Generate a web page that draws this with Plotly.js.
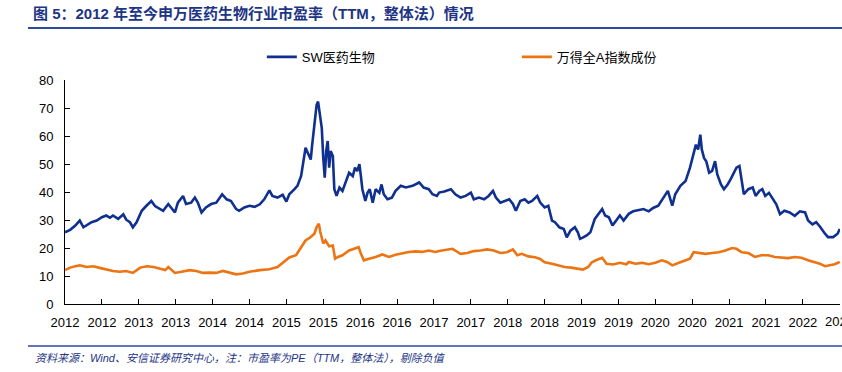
<!DOCTYPE html>
<html>
<head>
<meta charset="utf-8">
<script src="https://cdn.plot.ly/plotly-3.0.1.min.js"></script>
<style>html,body{margin:0;padding:0;background:#fff;}#chart{width:842px;height:372px;}</style>
</head>
<body>
<div id="chart"></div>
<script>
// Time in decimal years, values = PE (TTM)
const swT = [2012.00,2012.07,2012.14,2012.20,2012.25,2012.29,2012.36,2012.43,2012.50,2012.56,2012.61,2012.65,2012.72,2012.79,2012.83,2012.88,2012.92,2012.97,
2013.04,2013.10,2013.17,2013.22,2013.28,2013.33,2013.40,2013.44,2013.49,2013.53,2013.60,2013.64,2013.71,2013.76,2013.80,2013.85,2013.91,2013.98,
2014.05,2014.13,2014.19,2014.25,2014.32,2014.36,2014.43,2014.50,2014.57,2014.64,2014.70,2014.77,2014.81,2014.88,2014.95,
2015.00,2015.04,2015.11,2015.15,2015.20,2015.24,2015.26,2015.30,2015.33,2015.35,2015.39,2015.41,2015.43,2015.46,2015.48,2015.50,2015.52,2015.54,2015.56,2015.58,2015.60,2015.63,2015.65,2015.68,2015.72,2015.76,2015.81,2015.85,2015.90,2015.93,2015.96,2015.99,
2016.01,2016.03,2016.07,2016.10,2016.13,2016.17,2016.21,2016.26,2016.29,2016.32,2016.37,2016.43,2016.48,2016.55,2016.62,2016.71,2016.80,2016.86,2016.93,2016.98,
2017.04,2017.07,2017.14,2017.23,2017.29,2017.36,2017.43,2017.50,2017.54,2017.61,2017.68,2017.74,2017.80,2017.84,2017.90,2017.97,
2018.02,2018.07,2018.11,2018.17,2018.23,2018.28,2018.33,2018.40,2018.44,2018.50,2018.55,2018.60,2018.64,2018.70,2018.76,2018.80,2018.85,2018.91,2018.95,2018.98,
2019.01,2019.07,2019.12,2019.18,2019.23,2019.28,2019.32,2019.37,2019.42,2019.48,2019.52,2019.57,2019.61,2019.64,2019.70,2019.77,2019.84,2019.91,2019.97,
2020.04,2020.11,2020.17,2020.23,2020.27,2020.34,2020.41,2020.47,2020.53,2020.55,2020.58,2020.61,2020.63,2020.66,2020.69,2020.73,2020.77,2020.81,2020.84,2020.89,2020.93,2020.98,
2021.02,2021.07,2021.10,2021.14,2021.17,2021.20,2021.26,2021.32,2021.36,2021.41,2021.45,2021.49,2021.54,2021.58,2021.64,2021.69,2021.75,2021.82,2021.89,2021.96,
2022.03,2022.07,2022.13,2022.18,2022.23,2022.30,2022.34,2022.41,2022.47,2022.50];
const swPE = [25.6,26.5,28.0,29.8,27.4,28.0,29.2,29.8,31.0,31.6,30.8,31.6,30.4,32.0,30.1,29.2,27.4,29.2,
33.3,35.0,36.8,35.0,33.9,33.3,35.7,34.5,32.7,36.2,38.6,35.7,36.2,38.0,36.2,32.7,34.5,35.7,
36.2,39.2,37.4,36.8,33.9,33.3,34.5,35.1,34.7,35.6,37.4,40.6,38.6,38.0,39.0,
36.6,39.2,41.0,42.2,45.7,52.2,55.8,53.4,51.6,56.9,65.2,71.1,72.3,67.0,62.8,52.2,45.1,54.6,58.2,48.7,54.6,52.8,41.0,38.6,41.6,40.4,43.9,46.9,45.7,48.7,47.5,49.9,
45.7,41.0,36.8,39.7,41.0,36.2,41.0,39.7,42.7,39.2,37.4,38.0,40.4,42.2,41.6,42.2,43.4,41.6,41.0,39.2,
38.6,39.8,40.2,41.0,39.2,38.0,38.6,39.8,37.4,38.0,37.4,38.6,40.4,38.0,36.2,36.8,
37.4,35.7,33.3,36.8,37.4,36.2,36.8,38.6,36.2,34.5,35.1,29.8,29.2,27.4,26.8,23.8,26.2,27.4,25.6,23.3,
23.6,24.5,25.6,30.4,32.1,33.9,31.6,31.0,28.0,30.4,31.6,29.8,31.0,32.2,33.1,33.4,33.9,33.1,34.3,
35.1,38.0,40.4,35.1,39.2,42.2,43.9,48.7,55.2,56.9,55.2,60.5,55.2,52.2,51.0,46.9,47.5,51.0,46.3,42.7,41.0,42.7,
44.5,47.5,48.7,49.3,44.5,39.2,41.0,41.6,38.6,40.4,41.0,38.6,39.7,38.0,35.6,32.1,33.3,32.7,31.5,33.1,
32.7,29.8,28.4,29.2,27.7,25.1,23.9,23.9,25.1,26.8];

const waT = [2012.00,2012.07,2012.14,2012.20,2012.29,2012.38,2012.47,2012.56,2012.65,2012.74,2012.83,2012.92,
2013.02,2013.11,2013.20,2013.29,2013.36,2013.40,2013.49,2013.58,2013.69,2013.78,2013.87,2013.96,
2014.05,2014.14,2014.23,2014.32,2014.41,2014.50,2014.64,2014.77,2014.88,2014.95,
2015.04,2015.13,2015.20,2015.26,2015.33,2015.38,2015.41,2015.44,2015.46,2015.50,2015.53,2015.58,2015.63,2015.66,2015.70,2015.76,2015.85,2015.92,2015.98,
2016.01,2016.05,2016.12,2016.21,2016.30,2016.39,2016.48,2016.57,2016.66,2016.75,2016.84,2016.93,
2017.02,2017.07,2017.16,2017.25,2017.29,2017.36,2017.45,2017.54,2017.63,2017.72,2017.81,2017.90,2017.99,
2018.07,2018.13,2018.19,2018.28,2018.37,2018.44,2018.50,2018.60,2018.68,2018.77,2018.86,2018.95,
2019.02,2019.09,2019.14,2019.21,2019.28,2019.34,2019.43,2019.52,2019.61,2019.64,2019.73,2019.82,2019.91,
2020.00,2020.09,2020.16,2020.23,2020.32,2020.41,2020.47,2020.52,2020.59,2020.68,2020.77,2020.86,2020.95,
2021.04,2021.10,2021.17,2021.26,2021.35,2021.44,2021.53,2021.62,2021.71,2021.80,2021.89,2021.98,
2022.07,2022.16,2022.23,2022.30,2022.37,2022.43,2022.50];
const waPE = [12.1,13.0,13.5,13.8,13.2,13.5,12.9,12.3,11.8,11.5,11.8,11.1,
13.0,13.5,13.2,12.6,12.1,13.2,11.1,11.5,12.1,11.8,11.1,11.2,
11.1,11.8,11.1,10.6,10.9,11.5,12.1,12.4,13.2,14.7,
16.6,17.4,20.4,22.7,23.9,25.1,27.5,28.7,25.7,21.6,22.7,20.6,20.9,16.2,16.8,17.4,19.1,19.7,20.3,
18.0,15.6,16.2,16.8,17.7,16.8,17.6,18.2,18.6,18.8,18.6,19.1,
18.6,18.9,19.4,19.7,19.1,17.9,18.2,18.9,19.1,19.5,19.1,18.2,18.5,
19.5,17.4,17.9,17.0,16.7,16.1,14.9,14.4,13.8,13.2,13.0,12.6,
12.3,13.2,14.9,15.8,16.5,14.4,14.1,14.7,14.2,15.0,14.4,14.7,14.2,
14.7,15.6,15.0,13.8,14.7,15.6,16.2,18.5,18.2,17.9,18.2,18.5,19.1,
20.0,19.7,18.5,18.2,16.8,17.4,17.4,16.8,16.5,16.4,16.8,16.5,
15.6,15.0,14.4,13.5,13.8,14.2,15.0];

const tickVals = [2012,2012.5,2013,2013.5,2014,2014.5,2015,2015.5,2016,2016.5,2017,2017.5,2018,2018.5,2019,2019.5,2020,2020.5,2021,2021.5,2022,2022.5];
const tickText = ['2012','2012','2013','2013','2014','2014','2015','2015','2016','2016','2017','2017','2018','2018','2019','2019','2020','2020','2021','2021','2022','2022'];
const seriesNames = ['SW医药生物','万得全A指数成份'];

const FONT = 'Liberation Sans, Arial, "Noto Sans CJK SC", sans-serif';
const NAVY = '#1d3585';
const lastIdx = tickVals.length - 1;

const traces = [
  {x: swT, y: swPE, name: seriesNames[0], type: 'scatter', mode: 'lines',
   line: {color: '#10308f', width: 2.6}},
  {x: waT, y: waPE, name: seriesNames[1], type: 'scatter', mode: 'lines',
   line: {color: '#ec7413', width: 2.6}}
];

const layout = {
  width: 842, height: 372,
  margin: {l: 65, r: 2, t: 80, b: 68},
  paper_bgcolor: '#ffffff', plot_bgcolor: '#ffffff',
  font: {family: FONT, size: 13, color: '#000'},
  showlegend: true,
  title: {
    text: '<b>图 5：2012 年至今申万医药生物行业市盈率（TTM，整体法）情况</b>',
    font: {family: 'Liberation Sans, "Noto Sans CJK SC", sans-serif', size: 15, color: NAVY},
    xref: 'container', x: 33/842, xanchor: 'left',
    yref: 'container', y: 1 - 14/372, yanchor: 'middle'
  },
  legend: {
    orientation: 'h', x: 0.254, xanchor: 'left', y: 1.103, yanchor: 'middle',
    font: {family: FONT, size: 13, color: '#000'},
    entrywidth: 210, entrywidthmode: 'pixels',
    bgcolor: 'rgba(0,0,0,0)'
  },
  xaxis: {
    range: [2012, 2022.503], tickmode: 'array', tickvals: tickVals, ticktext: tickText,
    ticks: 'inside', ticklen: 5, tickcolor: '#000', tickwidth: 1,
    showline: true, linecolor: '#000', linewidth: 1, showgrid: false, zeroline: false,
    tickfont: {family: FONT, size: 13, color: '#000'}, ticklabelstandoff: 6
  },
  yaxis: {
    range: [0, 80], dtick: 10, tick0: 0,
    ticks: 'inside', ticklen: 5, tickcolor: '#000', tickwidth: 1,
    showline: true, linecolor: '#000', linewidth: 1, showgrid: false, zeroline: false,
    tickfont: {family: FONT, size: 13, color: '#000'}, ticklabelstandoff: 8
  },
  shapes: [
    {type: 'line', xref: 'paper', yref: 'paper', x0: (28-65)/775, x1: (842-65)/775, y0: (304-28)/224, y1: (304-28)/224,
     line: {color: '#2d4a9c', width: 2}},
    {type: 'line', xref: 'paper', yref: 'paper', x0: (28-65)/775, x1: (842-65)/775, y0: (304-346)/224, y1: (304-346)/224,
     line: {color: '#2d4a9c', width: 1.5}}
  ],
  annotations: [
    {text: '<i>资料来源：Wind、安信证券研究中心，注：市盈率为PE（TTM，整体法），剔除负值</i>',
     xref: 'paper', yref: 'paper', x: (33-65)/775, y: (304-358)/224, xanchor: 'left', yanchor: 'middle',
     showarrow: false, font: {family: 'Liberation Sans, "Noto Sans CJK SC", sans-serif', size: 11, color: NAVY}},
    // last (edge) tick label, partly cut off by the page edge as in the original
    {text: tickText[lastIdx], xref: 'x', yref: 'paper', x: tickVals[lastIdx], y: (304-321)/224,
     xanchor: 'center', yanchor: 'middle', showarrow: false,
     font: {family: FONT, size: 13, color: '#000'}}
  ]
};

Plotly.newPlot('chart', traces, layout, {displayModeBar: false, staticPlot: true});
</script>
</body>
</html>
